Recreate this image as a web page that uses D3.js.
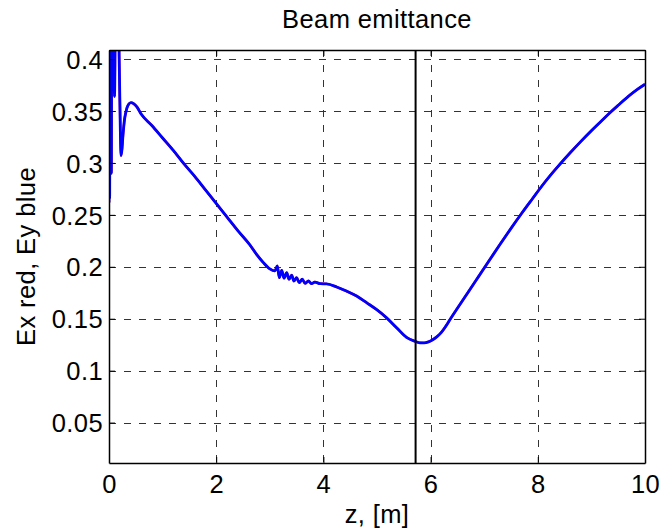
<!DOCTYPE html>
<html>
<head>
<meta charset="utf-8">
<script src="https://cdn.jsdelivr.net/npm/d3@7"></script>
<style>
  html, body { margin: 0; padding: 0; background: #fff; }
  svg { display: block; }
  text { font-family: "Liberation Sans", Arial, Helvetica, sans-serif; fill: #000; letter-spacing: 0.4px; }
</style>
</head>
<body>
<svg id="chart" width="666" height="532"></svg>
<script>
// ---- data ----
const zValues = [
  0, 0.006, 0.012, 0.02, 0.028, 0.036, 0.044, 0.052, 0.06, 0.08, 0.103, 0.126, 0.17, 0.19,
  0.212, 0.224, 0.24, 0.26, 0.29, 0.32, 0.36, 0.41, 0.46, 0.52,
  0.6, 0.8, 1.0, 1.2, 1.4, 1.6, 1.8, 2.0, 2.2, 2.4, 2.63, 2.76, 2.88, 3.0, 3.097,
  3.14, 3.178, 3.222, 3.265, 3.315, 3.358, 3.408, 3.45, 3.5, 3.55, 3.606, 3.657, 3.72, 3.78, 3.84,
  3.94, 4.06, 4.25, 4.43, 4.62, 4.81, 4.99, 5.18, 5.37, 5.55, 5.71, 5.8, 5.88, 5.96, 6.04, 6.12, 6.2, 6.28, 6.36,
  6.5, 6.7, 6.9, 7.1, 7.3, 7.5, 7.7, 7.9, 8.08, 8.25, 8.4, 8.6, 8.8, 9.0, 9.2, 9.35, 9.5, 9.7, 9.85, 10
];
const eyValues = [
  0.262, 0.48, 0.266, 0.48, 0.29, 0.48, 0.29, 0.48, 0.48, 0.48, 0.364, 0.48, 0.48, 0.40,
  0.33, 0.307, 0.312, 0.326, 0.342, 0.35, 0.356, 0.358, 0.357, 0.354,
  0.347, 0.336, 0.324, 0.312, 0.299, 0.287, 0.274, 0.261, 0.248, 0.235, 0.221, 0.2115, 0.204, 0.198, 0.196,
  0.2008, 0.1895, 0.1966, 0.189, 0.1943, 0.188, 0.192, 0.1863, 0.1895, 0.1847, 0.188, 0.1841, 0.1863, 0.1837, 0.1853,
  0.1837, 0.1835, 0.1805, 0.1766, 0.1718, 0.1653, 0.1589, 0.1508, 0.1411, 0.1321, 0.1283, 0.1268, 0.1267, 0.1277, 0.1298, 0.1328, 0.1368, 0.1425, 0.149,
  0.160, 0.1755, 0.191, 0.2065, 0.222, 0.237, 0.2515, 0.2655, 0.278, 0.289, 0.298, 0.3095, 0.3205, 0.331, 0.341, 0.3485, 0.3555, 0.3645, 0.3705, 0.3757
];
const exValues = eyValues.slice(); // red curve lies under the blue one
const markerZ = [5.72];
const xTicks = [0, 2, 4, 6, 8, 10];
const yTicks = [0.05, 0.1, 0.15, 0.2, 0.25, 0.3, 0.35, 0.4];
const xDomain = [0, 10];
const yDomain = [0.0111, 0.4087];
const titleText = "Beam emittance";
const xLabel = "z, [m]";
const yLabel = "Ex red, Ey blue";

// ---- layout ----
const W = 666, H = 532;
const margin = { left: 109, right: 21, top: 50, bottom: 69 };
const iw = W - margin.left - margin.right;
const ih = H - margin.top - margin.bottom;
const fs = 25.5;

const svg = d3.select("#chart");
const x = d3.scaleLinear().domain(xDomain).range([0, iw]);
const y = d3.scaleLinear().domain(yDomain).range([ih, 0]);

const g = svg.append("g").attr("transform", `translate(${margin.left},${margin.top})`);

g.append("rect").attr("width", iw).attr("height", ih).attr("fill", "#fff");

svg.append("defs").append("clipPath").attr("id", "clip")
  .append("rect").attr("width", iw).attr("height", ih);

// grid
const grid = g.append("g").attr("stroke", "#333").attr("stroke-width", 1)
  .attr("stroke-dasharray", "7,8").attr("fill", "none");
grid.selectAll("line.v").data(xTicks.filter(d => d > xDomain[0] && d < xDomain[1])).join("line")
  .attr("class", "v")
  .attr("x1", d => Math.round(x(d)) + 0.5).attr("x2", d => Math.round(x(d)) + 0.5)
  .attr("y1", 0).attr("y2", ih);
grid.selectAll("line.h").data(yTicks).join("line")
  .attr("class", "h")
  .attr("y1", d => Math.round(y(d)) + 0.5).attr("y2", d => Math.round(y(d)) + 0.5)
  .attr("x1", 0).attr("x2", iw);

// curves
const pts = (vals) => zValues.map((z, i) => [z, vals[i]]);
const line = d3.line().x(d => x(d[0])).y(d => y(d[1])).curve(d3.curveMonotoneX);
const curves = g.append("g").attr("clip-path", "url(#clip)");
curves.append("path").datum(pts(exValues)).attr("d", line)
  .attr("fill", "none").attr("stroke", "#ff0000").attr("stroke-width", 2.4)
  .attr("stroke-linejoin", "round");
curves.append("path").datum(pts(eyValues)).attr("d", line)
  .attr("fill", "none").attr("stroke", "#0000ff").attr("stroke-width", 2.8)
  .attr("stroke-linejoin", "round");

// marker line
g.selectAll("line.marker").data(markerZ).join("line")
  .attr("class", "marker")
  .attr("x1", d => x(d)).attr("x2", d => x(d))
  .attr("y1", 0).attr("y2", ih)
  .attr("stroke", "#000").attr("stroke-width", 2);

// axes (MATLAB style: inward ticks, box)
const xAxisB = d3.axisBottom(x).tickValues(xTicks).tickSizeInner(-6).tickSizeOuter(0).tickPadding(12).tickFormat(d3.format("d"));
const xAxisT = d3.axisTop(x).tickValues(xTicks).tickSizeInner(-6).tickSizeOuter(0).tickFormat("");
const yAxisL = d3.axisLeft(y).tickValues(yTicks).tickSizeInner(-6).tickSizeOuter(0).tickPadding(12).tickFormat(d => d3.format("")(+d.toFixed(2)));
const yAxisR = d3.axisRight(y).tickValues(yTicks).tickSizeInner(-6).tickSizeOuter(0).tickFormat("");

function style(sel) {
  sel.selectAll(".domain").attr("stroke", "#000").attr("stroke-width", 1.5);
  sel.selectAll(".tick line").attr("stroke", "#000").attr("stroke-width", 1);
  sel.selectAll(".tick text").attr("font-size", fs).attr("font-family", '"Liberation Sans", Arial, sans-serif').attr("fill", "#000");
}
g.append("g").attr("transform", `translate(0,${ih})`).call(xAxisB).call(style)
  .selectAll(".tick text").attr("dy", null).attr("y", 30);
g.append("g").call(xAxisT).call(style);
g.append("g").call(yAxisL).call(style)
  .selectAll(".tick text").attr("dy", "0.36em").attr("x", -6);
g.append("g").attr("transform", `translate(${iw},0)`).call(yAxisR).call(style);

// title and labels
svg.append("text").attr("x", margin.left + iw / 2).attr("y", 28)
  .attr("text-anchor", "middle").attr("font-size", fs).text(titleText);
svg.append("text").attr("x", margin.left + iw / 2).attr("y", 523)
  .attr("text-anchor", "middle").attr("font-size", fs).text(xLabel);
svg.append("text").attr("transform", `translate(35,${margin.top + ih / 2}) rotate(-90)`)
  .attr("text-anchor", "middle").attr("font-size", fs).text(yLabel);
</script>
</body>
</html>
